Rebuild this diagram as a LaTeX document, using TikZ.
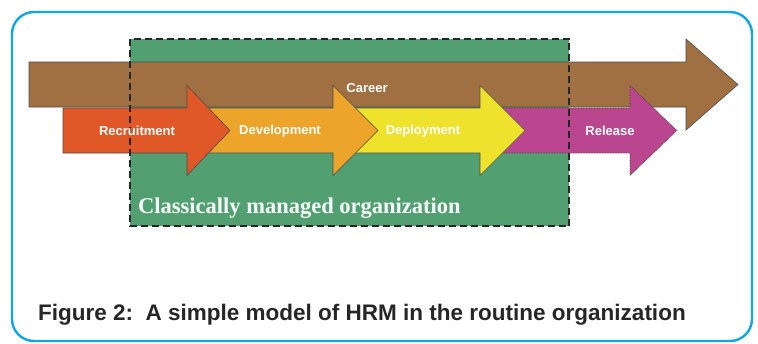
\documentclass[tikz,border=0pt]{standalone}
\usepackage{fontspec}
\setmainfont{Liberation Sans}
\newfontfamily\orgfont{Liberation Serif}
\usetikzlibrary{positioning,calc}
\definecolor{frameblue}{RGB}{16,166,230}
\definecolor{orggreen}{RGB}{82,160,114}
\definecolor{careerbrown}{RGB}{160,112,66}
\definecolor{recruitred}{RGB}{224,88,40}
\definecolor{developorange}{RGB}{236,164,42}
\definecolor{deployyellow}{RGB}{238,226,44}
\definecolor{releasemagenta}{RGB}{186,70,144}
\tikzset{stage/.style = {
    draw=black!70,
    line width=0.6pt,
    line join=miter
  }
}
% #1 style, #2 tail x, #3 head x, #4 tip x, #5 centre y, #6 half shaft, #7 half head
\newcommand{\hrmarrow}[7]{%
  \path[#1] (#2,#5-#6) -- (#3,#5-#6) -- (#3,#5-#7) -- (#4,#5) -- (#3,#5+#7) -- (#3,#5+#6) -- (#2,#5+#6) -- cycle;}
\begin{document}
\begin{tikzpicture}[x=1pt, y=-1pt]
  % styles
  \tikzstyle{org} = [rectangle, fill=orggreen, anchor=north west, inner sep=0pt]
  \tikzstyle{orgedge} = [draw=black!85, line width=2pt, dash pattern=on 7pt off 4pt]
  \tikzstyle{steplabel} = [text=white, font=\bfseries\fontsize{13}{13}\selectfont, inner sep=0pt]
  \tikzstyle{orglabel} = [text=white!95!orggreen, font=\orgfont\bfseries\fontsize{22.5}{22.5}\selectfont, inner sep=0pt, anchor=base west]
  \tikzstyle{caption} = [font=\bfseries\fontsize{22.5}{22.5}\selectfont, text=black!85, inner sep=0pt, anchor=base west]

  \useasboundingbox (0,0) rectangle (758,343);
  \draw[frameblue, line width=2.4pt, rounded corners=22pt] (12,12) rectangle (752,341);

  % organization
  \node[org, minimum width=439pt, minimum height=187pt] (org) at (130,39) {};

  % arrows
  \hrmarrow{stage, fill=careerbrown}{29}{686}{738}{84.5}{22.5}{45.5}
  \hrmarrow{stage, fill=releasemagenta, densely dotted, draw=black!80}{495}{630}{677}{130.5}{22.5}{45}
  \hrmarrow{stage, fill=deployyellow}{350}{480}{525}{130.5}{22.5}{45}
  \hrmarrow{stage, fill=developorange}{200}{333}{378}{130.5}{22.5}{45}
  \hrmarrow{stage, fill=recruitred}{63}{187}{230}{130.5}{22.5}{45}

  \draw[orgedge] (org.north west) rectangle (org.south east);

  % labels
  \node[steplabel] (career) at (367,88) {Career};
  \node[steplabel] (recruitment) at (137,131) {Recruitment};
  \node[steplabel] (development) at (280,131) {Development};
  \node[steplabel] (deployment) at (423,131) {Deployment};
  \node[steplabel] (release) at (610,131) {Release};

  \node[orglabel] (orgname) at (138,213) {Classically managed organization};
  \node[caption] (figcaption) at (38,320) {Figure 2:\ \ A simple model of HRM in the routine organization};
\end{tikzpicture}
\end{document}
